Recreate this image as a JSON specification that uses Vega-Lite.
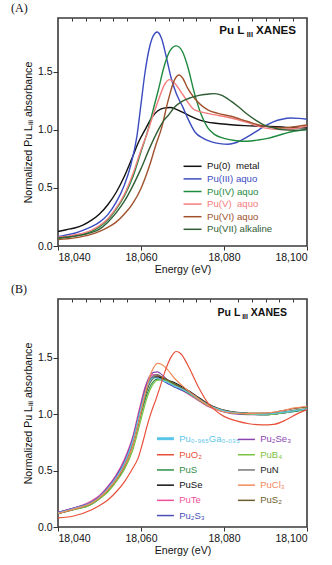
{
  "$schema": "https://vega.github.io/schema/vega-lite/v6.json",
  "padding": {"left": 10, "top": 0, "right": 5, "bottom": 5},
  "spacing": 5,
  "config": {
    "font": "Liberation Sans",
    "view": {"stroke": "#3a3a3a", "strokeWidth": 1.6},
    "axis": {"domain": false, "grid": false, "labelColor": "#111", "titleColor": "#111", "tickColor": "#333", "labelFontSize": 10.5, "titleFontSize": 10.6, "titleFontWeight": "normal"},
    "title": {"font": "Liberation Serif", "fontSize": 12, "fontWeight": "normal", "color": "#111"}
  },
  "resolve": {"scale": {"color": "independent"}, "legend": {"color": "independent"}},
  "datasets": {
    "a": [
      {"s":"Pu(0)\u00a0 metal","e":18040,"v":0.125},{"s":"Pu(0)\u00a0 metal","e":18042,"v":0.14},{"s":"Pu(0)\u00a0 metal","e":18044,"v":0.155},{"s":"Pu(0)\u00a0 metal","e":18046,"v":0.18},{"s":"Pu(0)\u00a0 metal","e":18048,"v":0.22},{"s":"Pu(0)\u00a0 metal","e":18050,"v":0.275},{"s":"Pu(0)\u00a0 metal","e":18052,"v":0.355},{"s":"Pu(0)\u00a0 metal","e":18054,"v":0.46},{"s":"Pu(0)\u00a0 metal","e":18056,"v":0.6},{"s":"Pu(0)\u00a0 metal","e":18058,"v":0.77},{"s":"Pu(0)\u00a0 metal","e":18059.5,"v":0.9},{"s":"Pu(0)\u00a0 metal","e":18061,"v":1.0},{"s":"Pu(0)\u00a0 metal","e":18062.5,"v":1.1},{"s":"Pu(0)\u00a0 metal","e":18064,"v":1.16},{"s":"Pu(0)\u00a0 metal","e":18065.5,"v":1.185},{"s":"Pu(0)\u00a0 metal","e":18067,"v":1.19},{"s":"Pu(0)\u00a0 metal","e":18068.5,"v":1.175},{"s":"Pu(0)\u00a0 metal","e":18070,"v":1.15},{"s":"Pu(0)\u00a0 metal","e":18072,"v":1.115},{"s":"Pu(0)\u00a0 metal","e":18074,"v":1.085},{"s":"Pu(0)\u00a0 metal","e":18076,"v":1.065},{"s":"Pu(0)\u00a0 metal","e":18078,"v":1.055},{"s":"Pu(0)\u00a0 metal","e":18081,"v":1.045},{"s":"Pu(0)\u00a0 metal","e":18085,"v":1.035},{"s":"Pu(0)\u00a0 metal","e":18090,"v":1.03},{"s":"Pu(0)\u00a0 metal","e":18095,"v":1.02},{"s":"Pu(0)\u00a0 metal","e":18100,"v":1.015},
      {"s":"Pu(III) aquo","e":18040,"v":0.08},{"s":"Pu(III) aquo","e":18042,"v":0.095},{"s":"Pu(III) aquo","e":18044,"v":0.11},{"s":"Pu(III) aquo","e":18046,"v":0.135},{"s":"Pu(III) aquo","e":18048,"v":0.165},{"s":"Pu(III) aquo","e":18050,"v":0.205},{"s":"Pu(III) aquo","e":18052,"v":0.27},{"s":"Pu(III) aquo","e":18054,"v":0.375},{"s":"Pu(III) aquo","e":18056,"v":0.525},{"s":"Pu(III) aquo","e":18057.5,"v":0.69},{"s":"Pu(III) aquo","e":18059,"v":0.94},{"s":"Pu(III) aquo","e":18060,"v":1.22},{"s":"Pu(III) aquo","e":18061,"v":1.5},{"s":"Pu(III) aquo","e":18062,"v":1.7},{"s":"Pu(III) aquo","e":18063,"v":1.81},{"s":"Pu(III) aquo","e":18063.9,"v":1.84},{"s":"Pu(III) aquo","e":18065,"v":1.78},{"s":"Pu(III) aquo","e":18066,"v":1.64},{"s":"Pu(III) aquo","e":18067.3,"v":1.44},{"s":"Pu(III) aquo","e":18068.5,"v":1.31},{"s":"Pu(III) aquo","e":18070,"v":1.2},{"s":"Pu(III) aquo","e":18071.5,"v":1.08},{"s":"Pu(III) aquo","e":18073,"v":0.98},{"s":"Pu(III) aquo","e":18075,"v":0.925},{"s":"Pu(III) aquo","e":18077,"v":0.895},{"s":"Pu(III) aquo","e":18079,"v":0.88},{"s":"Pu(III) aquo","e":18081,"v":0.875},{"s":"Pu(III) aquo","e":18083,"v":0.89},{"s":"Pu(III) aquo","e":18085.5,"v":0.935},{"s":"Pu(III) aquo","e":18088,"v":0.99},{"s":"Pu(III) aquo","e":18090,"v":1.035},{"s":"Pu(III) aquo","e":18092,"v":1.07},{"s":"Pu(III) aquo","e":18094,"v":1.09},{"s":"Pu(III) aquo","e":18096,"v":1.1},{"s":"Pu(III) aquo","e":18098,"v":1.097},{"s":"Pu(III) aquo","e":18100,"v":1.09},
      {"s":"Pu(IV) aquo","e":18040,"v":0.065},{"s":"Pu(IV) aquo","e":18044,"v":0.085},{"s":"Pu(IV) aquo","e":18048,"v":0.125},{"s":"Pu(IV) aquo","e":18050,"v":0.165},{"s":"Pu(IV) aquo","e":18052,"v":0.225},{"s":"Pu(IV) aquo","e":18054,"v":0.315},{"s":"Pu(IV) aquo","e":18056,"v":0.43},{"s":"Pu(IV) aquo","e":18058,"v":0.59},{"s":"Pu(IV) aquo","e":18060,"v":0.81},{"s":"Pu(IV) aquo","e":18061.7,"v":1.0},{"s":"Pu(IV) aquo","e":18063,"v":1.18},{"s":"Pu(IV) aquo","e":18064.1,"v":1.33},{"s":"Pu(IV) aquo","e":18065.7,"v":1.56},{"s":"Pu(IV) aquo","e":18067,"v":1.68},{"s":"Pu(IV) aquo","e":18068.5,"v":1.72},{"s":"Pu(IV) aquo","e":18070,"v":1.67},{"s":"Pu(IV) aquo","e":18071.2,"v":1.55},{"s":"Pu(IV) aquo","e":18072.9,"v":1.31},{"s":"Pu(IV) aquo","e":18074.5,"v":1.13},{"s":"Pu(IV) aquo","e":18076.1,"v":1.015},{"s":"Pu(IV) aquo","e":18077.7,"v":0.96},{"s":"Pu(IV) aquo","e":18080,"v":0.925},{"s":"Pu(IV) aquo","e":18083,"v":0.905},{"s":"Pu(IV) aquo","e":18085.7,"v":0.9},{"s":"Pu(IV) aquo","e":18088,"v":0.91},{"s":"Pu(IV) aquo","e":18090.5,"v":0.925},{"s":"Pu(IV) aquo","e":18093,"v":0.95},{"s":"Pu(IV) aquo","e":18096,"v":0.98},{"s":"Pu(IV) aquo","e":18100,"v":1.0},
      {"s":"Pu(V)\u00a0 aquo","e":18040,"v":0.075},{"s":"Pu(V)\u00a0 aquo","e":18044,"v":0.095},{"s":"Pu(V)\u00a0 aquo","e":18048,"v":0.135},{"s":"Pu(V)\u00a0 aquo","e":18050,"v":0.175},{"s":"Pu(V)\u00a0 aquo","e":18052,"v":0.235},{"s":"Pu(V)\u00a0 aquo","e":18054,"v":0.325},{"s":"Pu(V)\u00a0 aquo","e":18056,"v":0.445},{"s":"Pu(V)\u00a0 aquo","e":18058,"v":0.615},{"s":"Pu(V)\u00a0 aquo","e":18060,"v":0.825},{"s":"Pu(V)\u00a0 aquo","e":18061.5,"v":0.97},{"s":"Pu(V)\u00a0 aquo","e":18062.5,"v":1.08},{"s":"Pu(V)\u00a0 aquo","e":18064.1,"v":1.245},{"s":"Pu(V)\u00a0 aquo","e":18065.7,"v":1.39},{"s":"Pu(V)\u00a0 aquo","e":18066.9,"v":1.43},{"s":"Pu(V)\u00a0 aquo","e":18068.1,"v":1.4},{"s":"Pu(V)\u00a0 aquo","e":18070.1,"v":1.3},{"s":"Pu(V)\u00a0 aquo","e":18072.9,"v":1.17},{"s":"Pu(V)\u00a0 aquo","e":18076.1,"v":1.14},{"s":"Pu(V)\u00a0 aquo","e":18079,"v":1.12},{"s":"Pu(V)\u00a0 aquo","e":18081.7,"v":1.1},{"s":"Pu(V)\u00a0 aquo","e":18085.7,"v":1.06},{"s":"Pu(V)\u00a0 aquo","e":18089.7,"v":1.015},{"s":"Pu(V)\u00a0 aquo","e":18093.7,"v":1.0},{"s":"Pu(V)\u00a0 aquo","e":18097,"v":1.01},{"s":"Pu(V)\u00a0 aquo","e":18100,"v":1.03},
      {"s":"Pu(VI) aquo","e":18040,"v":0.055},{"s":"Pu(VI) aquo","e":18044,"v":0.07},{"s":"Pu(VI) aquo","e":18048,"v":0.1},{"s":"Pu(VI) aquo","e":18050,"v":0.125},{"s":"Pu(VI) aquo","e":18052,"v":0.16},{"s":"Pu(VI) aquo","e":18054,"v":0.205},{"s":"Pu(VI) aquo","e":18056,"v":0.275},{"s":"Pu(VI) aquo","e":18058,"v":0.365},{"s":"Pu(VI) aquo","e":18060,"v":0.495},{"s":"Pu(VI) aquo","e":18062,"v":0.685},{"s":"Pu(VI) aquo","e":18063.5,"v":0.86},{"s":"Pu(VI) aquo","e":18065,"v":1.02},{"s":"Pu(VI) aquo","e":18066.5,"v":1.245},{"s":"Pu(VI) aquo","e":18068.1,"v":1.43},{"s":"Pu(VI) aquo","e":18069.2,"v":1.47},{"s":"Pu(VI) aquo","e":18070.1,"v":1.44},{"s":"Pu(VI) aquo","e":18071.2,"v":1.36},{"s":"Pu(VI) aquo","e":18072.9,"v":1.27},{"s":"Pu(VI) aquo","e":18076.1,"v":1.17},{"s":"Pu(VI) aquo","e":18078.5,"v":1.14},{"s":"Pu(VI) aquo","e":18081.7,"v":1.115},{"s":"Pu(VI) aquo","e":18085.7,"v":1.07},{"s":"Pu(VI) aquo","e":18089.7,"v":1.03},{"s":"Pu(VI) aquo","e":18093.7,"v":1.015},{"s":"Pu(VI) aquo","e":18097,"v":1.025},{"s":"Pu(VI) aquo","e":18100,"v":1.04},
      {"s":"Pu(VII) alkaline","e":18040,"v":0.07},{"s":"Pu(VII) alkaline","e":18044,"v":0.085},{"s":"Pu(VII) alkaline","e":18048,"v":0.115},{"s":"Pu(VII) alkaline","e":18050,"v":0.145},{"s":"Pu(VII) alkaline","e":18052,"v":0.205},{"s":"Pu(VII) alkaline","e":18054,"v":0.285},{"s":"Pu(VII) alkaline","e":18056,"v":0.385},{"s":"Pu(VII) alkaline","e":18058,"v":0.515},{"s":"Pu(VII) alkaline","e":18060,"v":0.665},{"s":"Pu(VII) alkaline","e":18062,"v":0.835},{"s":"Pu(VII) alkaline","e":18064.2,"v":1.0},{"s":"Pu(VII) alkaline","e":18065.5,"v":1.08},{"s":"Pu(VII) alkaline","e":18066.5,"v":1.12},{"s":"Pu(VII) alkaline","e":18068,"v":1.19},{"s":"Pu(VII) alkaline","e":18070,"v":1.245},{"s":"Pu(VII) alkaline","e":18072,"v":1.275},{"s":"Pu(VII) alkaline","e":18074,"v":1.295},{"s":"Pu(VII) alkaline","e":18076,"v":1.305},{"s":"Pu(VII) alkaline","e":18077.7,"v":1.31},{"s":"Pu(VII) alkaline","e":18079.5,"v":1.295},{"s":"Pu(VII) alkaline","e":18081.7,"v":1.245},{"s":"Pu(VII) alkaline","e":18083.7,"v":1.19},{"s":"Pu(VII) alkaline","e":18085.7,"v":1.13},{"s":"Pu(VII) alkaline","e":18087.7,"v":1.08},{"s":"Pu(VII) alkaline","e":18089.7,"v":1.04},{"s":"Pu(VII) alkaline","e":18092,"v":1.015},{"s":"Pu(VII) alkaline","e":18094,"v":1.0},{"s":"Pu(VII) alkaline","e":18097,"v":0.995},{"s":"Pu(VII) alkaline","e":18100,"v":1.0}
    ],
    "b": [
      {"s":"PuTe","e":18040,"v":0.13},{"s":"PuTe","e":18044,"v":0.17},{"s":"PuTe","e":18048,"v":0.23},{"s":"PuTe","e":18050,"v":0.28},{"s":"PuTe","e":18052,"v":0.36},{"s":"PuTe","e":18054,"v":0.46},{"s":"PuTe","e":18056,"v":0.6},{"s":"PuTe","e":18058,"v":0.8},{"s":"PuTe","e":18059.7,"v":1.06},{"s":"PuTe","e":18061,"v":1.24},{"s":"PuTe","e":18062,"v":1.32},{"s":"PuTe","e":18063,"v":1.35},{"s":"PuTe","e":18064,"v":1.34},{"s":"PuTe","e":18065,"v":1.31},{"s":"PuTe","e":18066.5,"v":1.28},{"s":"PuTe","e":18068,"v":1.25},{"s":"PuTe","e":18070,"v":1.21},{"s":"PuTe","e":18073,"v":1.14},{"s":"PuTe","e":18076,"v":1.07},{"s":"PuTe","e":18079,"v":1.03},{"s":"PuTe","e":18082,"v":1.01},{"s":"PuTe","e":18086,"v":1.0},{"s":"PuTe","e":18090,"v":1.0},{"s":"PuTe","e":18094,"v":1.01},{"s":"PuTe","e":18097,"v":1.03},{"s":"PuTe","e":18100,"v":1.04},
      {"s":"Pu₂S₃","e":18040,"v":0.13},{"s":"Pu₂S₃","e":18044,"v":0.17},{"s":"Pu₂S₃","e":18048,"v":0.22},{"s":"Pu₂S₃","e":18050,"v":0.27},{"s":"Pu₂S₃","e":18052,"v":0.35},{"s":"Pu₂S₃","e":18054,"v":0.45},{"s":"Pu₂S₃","e":18056,"v":0.58},{"s":"Pu₂S₃","e":18058,"v":0.78},{"s":"Pu₂S₃","e":18059.7,"v":1.03},{"s":"Pu₂S₃","e":18061,"v":1.21},{"s":"Pu₂S₃","e":18062,"v":1.3},{"s":"Pu₂S₃","e":18063,"v":1.33},{"s":"Pu₂S₃","e":18064,"v":1.32},{"s":"Pu₂S₃","e":18065,"v":1.3},{"s":"Pu₂S₃","e":18066.5,"v":1.27},{"s":"Pu₂S₃","e":18068,"v":1.24},{"s":"Pu₂S₃","e":18070,"v":1.21},{"s":"Pu₂S₃","e":18073,"v":1.15},{"s":"Pu₂S₃","e":18076,"v":1.08},{"s":"Pu₂S₃","e":18079,"v":1.035},{"s":"Pu₂S₃","e":18082,"v":1.01},{"s":"Pu₂S₃","e":18086,"v":1.0},{"s":"Pu₂S₃","e":18090,"v":0.995},{"s":"Pu₂S₃","e":18094,"v":1.01},{"s":"Pu₂S₃","e":18097,"v":1.025},{"s":"Pu₂S₃","e":18100,"v":1.04},
      {"s":"Pu₂Se₃","e":18040,"v":0.13},{"s":"Pu₂Se₃","e":18044,"v":0.17},{"s":"Pu₂Se₃","e":18048,"v":0.22},{"s":"Pu₂Se₃","e":18050,"v":0.27},{"s":"Pu₂Se₃","e":18052,"v":0.35},{"s":"Pu₂Se₃","e":18054,"v":0.45},{"s":"Pu₂Se₃","e":18056,"v":0.58},{"s":"Pu₂Se₃","e":18058,"v":0.78},{"s":"Pu₂Se₃","e":18059.7,"v":1.03},{"s":"Pu₂Se₃","e":18061,"v":1.23},{"s":"Pu₂Se₃","e":18062,"v":1.33},{"s":"Pu₂Se₃","e":18063,"v":1.37},{"s":"Pu₂Se₃","e":18064,"v":1.375},{"s":"Pu₂Se₃","e":18065,"v":1.35},{"s":"Pu₂Se₃","e":18066.5,"v":1.3},{"s":"Pu₂Se₃","e":18068,"v":1.26},{"s":"Pu₂Se₃","e":18070,"v":1.22},{"s":"Pu₂Se₃","e":18073,"v":1.15},{"s":"Pu₂Se₃","e":18076,"v":1.08},{"s":"Pu₂Se₃","e":18079,"v":1.03},{"s":"Pu₂Se₃","e":18082,"v":1.005},{"s":"Pu₂Se₃","e":18086,"v":0.995},{"s":"Pu₂Se₃","e":18090,"v":0.995},{"s":"Pu₂Se₃","e":18094,"v":1.01},{"s":"Pu₂Se₃","e":18097,"v":1.03},{"s":"Pu₂Se₃","e":18100,"v":1.045},
      {"s":"PuSe","e":18040,"v":0.12},{"s":"PuSe","e":18044,"v":0.16},{"s":"PuSe","e":18048,"v":0.21},{"s":"PuSe","e":18050,"v":0.26},{"s":"PuSe","e":18052,"v":0.33},{"s":"PuSe","e":18054,"v":0.42},{"s":"PuSe","e":18056,"v":0.55},{"s":"PuSe","e":18058,"v":0.74},{"s":"PuSe","e":18059.7,"v":0.99},{"s":"PuSe","e":18061,"v":1.17},{"s":"PuSe","e":18062,"v":1.27},{"s":"PuSe","e":18063,"v":1.32},{"s":"PuSe","e":18064,"v":1.33},{"s":"PuSe","e":18065,"v":1.32},{"s":"PuSe","e":18066.5,"v":1.3},{"s":"PuSe","e":18068,"v":1.28},{"s":"PuSe","e":18070,"v":1.24},{"s":"PuSe","e":18073,"v":1.17},{"s":"PuSe","e":18076,"v":1.095},{"s":"PuSe","e":18079,"v":1.045},{"s":"PuSe","e":18082,"v":1.02},{"s":"PuSe","e":18086,"v":1.005},{"s":"PuSe","e":18090,"v":1.0},{"s":"PuSe","e":18094,"v":1.015},{"s":"PuSe","e":18097,"v":1.03},{"s":"PuSe","e":18100,"v":1.04},
      {"s":"PuN","e":18040,"v":0.12},{"s":"PuN","e":18044,"v":0.16},{"s":"PuN","e":18048,"v":0.21},{"s":"PuN","e":18050,"v":0.26},{"s":"PuN","e":18052,"v":0.33},{"s":"PuN","e":18054,"v":0.43},{"s":"PuN","e":18056,"v":0.56},{"s":"PuN","e":18058,"v":0.76},{"s":"PuN","e":18059.7,"v":1.01},{"s":"PuN","e":18061,"v":1.2},{"s":"PuN","e":18062,"v":1.3},{"s":"PuN","e":18063,"v":1.34},{"s":"PuN","e":18064,"v":1.35},{"s":"PuN","e":18065,"v":1.33},{"s":"PuN","e":18066.5,"v":1.3},{"s":"PuN","e":18068,"v":1.27},{"s":"PuN","e":18070,"v":1.23},{"s":"PuN","e":18073,"v":1.16},{"s":"PuN","e":18076,"v":1.09},{"s":"PuN","e":18079,"v":1.04},{"s":"PuN","e":18082,"v":1.015},{"s":"PuN","e":18086,"v":1.005},{"s":"PuN","e":18090,"v":1.0},{"s":"PuN","e":18094,"v":1.015},{"s":"PuN","e":18097,"v":1.035},{"s":"PuN","e":18100,"v":1.05},
      {"s":"PuS","e":18040,"v":0.12},{"s":"PuS","e":18044,"v":0.155},{"s":"PuS","e":18048,"v":0.2},{"s":"PuS","e":18050,"v":0.25},{"s":"PuS","e":18052,"v":0.32},{"s":"PuS","e":18054,"v":0.41},{"s":"PuS","e":18056,"v":0.53},{"s":"PuS","e":18058,"v":0.71},{"s":"PuS","e":18059.7,"v":0.95},{"s":"PuS","e":18061,"v":1.13},{"s":"PuS","e":18062,"v":1.23},{"s":"PuS","e":18063,"v":1.29},{"s":"PuS","e":18064,"v":1.31},{"s":"PuS","e":18065,"v":1.31},{"s":"PuS","e":18066.5,"v":1.29},{"s":"PuS","e":18068,"v":1.26},{"s":"PuS","e":18070,"v":1.22},{"s":"PuS","e":18073,"v":1.15},{"s":"PuS","e":18076,"v":1.08},{"s":"PuS","e":18079,"v":1.035},{"s":"PuS","e":18082,"v":1.01},{"s":"PuS","e":18086,"v":1.0},{"s":"PuS","e":18090,"v":0.995},{"s":"PuS","e":18094,"v":1.01},{"s":"PuS","e":18097,"v":1.025},{"s":"PuS","e":18100,"v":1.04},
      {"s":"PuB₄","e":18040,"v":0.12},{"s":"PuB₄","e":18044,"v":0.155},{"s":"PuB₄","e":18048,"v":0.2},{"s":"PuB₄","e":18050,"v":0.25},{"s":"PuB₄","e":18052,"v":0.31},{"s":"PuB₄","e":18054,"v":0.4},{"s":"PuB₄","e":18056,"v":0.51},{"s":"PuB₄","e":18058,"v":0.68},{"s":"PuB₄","e":18059.7,"v":0.91},{"s":"PuB₄","e":18061,"v":1.09},{"s":"PuB₄","e":18062,"v":1.2},{"s":"PuB₄","e":18063,"v":1.27},{"s":"PuB₄","e":18064,"v":1.3},{"s":"PuB₄","e":18065,"v":1.3},{"s":"PuB₄","e":18066.5,"v":1.29},{"s":"PuB₄","e":18068,"v":1.26},{"s":"PuB₄","e":18070,"v":1.22},{"s":"PuB₄","e":18073,"v":1.15},{"s":"PuB₄","e":18076,"v":1.08},{"s":"PuB₄","e":18079,"v":1.035},{"s":"PuB₄","e":18082,"v":1.01},{"s":"PuB₄","e":18086,"v":1.0},{"s":"PuB₄","e":18090,"v":0.995},{"s":"PuB₄","e":18094,"v":1.01},{"s":"PuB₄","e":18097,"v":1.03},{"s":"PuB₄","e":18100,"v":1.045},
      {"s":"PuS₂","e":18040,"v":0.12},{"s":"PuS₂","e":18044,"v":0.16},{"s":"PuS₂","e":18048,"v":0.21},{"s":"PuS₂","e":18050,"v":0.26},{"s":"PuS₂","e":18052,"v":0.33},{"s":"PuS₂","e":18054,"v":0.42},{"s":"PuS₂","e":18056,"v":0.54},{"s":"PuS₂","e":18058,"v":0.73},{"s":"PuS₂","e":18059.7,"v":0.98},{"s":"PuS₂","e":18061,"v":1.17},{"s":"PuS₂","e":18062,"v":1.27},{"s":"PuS₂","e":18063,"v":1.32},{"s":"PuS₂","e":18064,"v":1.34},{"s":"PuS₂","e":18065,"v":1.33},{"s":"PuS₂","e":18066.5,"v":1.3},{"s":"PuS₂","e":18068,"v":1.27},{"s":"PuS₂","e":18070,"v":1.23},{"s":"PuS₂","e":18073,"v":1.16},{"s":"PuS₂","e":18076,"v":1.09},{"s":"PuS₂","e":18079,"v":1.045},{"s":"PuS₂","e":18082,"v":1.02},{"s":"PuS₂","e":18086,"v":1.01},{"s":"PuS₂","e":18090,"v":1.01},{"s":"PuS₂","e":18094,"v":1.03},{"s":"PuS₂","e":18097,"v":1.05},{"s":"PuS₂","e":18100,"v":1.065},
      {"s":"Pu₀.₉₆₅Ga₀.₀₃₅","e":18040,"v":0.125},{"s":"Pu₀.₉₆₅Ga₀.₀₃₅","e":18044,"v":0.165},{"s":"Pu₀.₉₆₅Ga₀.₀₃₅","e":18048,"v":0.215},{"s":"Pu₀.₉₆₅Ga₀.₀₃₅","e":18050,"v":0.265},{"s":"Pu₀.₉₆₅Ga₀.₀₃₅","e":18052,"v":0.34},{"s":"Pu₀.₉₆₅Ga₀.₀₃₅","e":18054,"v":0.435},{"s":"Pu₀.₉₆₅Ga₀.₀₃₅","e":18056,"v":0.565},{"s":"Pu₀.₉₆₅Ga₀.₀₃₅","e":18058,"v":0.76},{"s":"Pu₀.₉₆₅Ga₀.₀₃₅","e":18059.7,"v":1.01},{"s":"Pu₀.₉₆₅Ga₀.₀₃₅","e":18061,"v":1.19},{"s":"Pu₀.₉₆₅Ga₀.₀₃₅","e":18062,"v":1.28},{"s":"Pu₀.₉₆₅Ga₀.₀₃₅","e":18063,"v":1.32},{"s":"Pu₀.₉₆₅Ga₀.₀₃₅","e":18064,"v":1.32},{"s":"Pu₀.₉₆₅Ga₀.₀₃₅","e":18065,"v":1.3},{"s":"Pu₀.₉₆₅Ga₀.₀₃₅","e":18066.5,"v":1.28},{"s":"Pu₀.₉₆₅Ga₀.₀₃₅","e":18068,"v":1.25},{"s":"Pu₀.₉₆₅Ga₀.₀₃₅","e":18070,"v":1.22},{"s":"Pu₀.₉₆₅Ga₀.₀₃₅","e":18073,"v":1.155},{"s":"Pu₀.₉₆₅Ga₀.₀₃₅","e":18076,"v":1.085},{"s":"Pu₀.₉₆₅Ga₀.₀₃₅","e":18079,"v":1.04},{"s":"Pu₀.₉₆₅Ga₀.₀₃₅","e":18082,"v":1.015},{"s":"Pu₀.₉₆₅Ga₀.₀₃₅","e":18086,"v":1.005},{"s":"Pu₀.₉₆₅Ga₀.₀₃₅","e":18090,"v":1.0},{"s":"Pu₀.₉₆₅Ga₀.₀₃₅","e":18094,"v":1.015},{"s":"Pu₀.₉₆₅Ga₀.₀₃₅","e":18097,"v":1.03},{"s":"Pu₀.₉₆₅Ga₀.₀₃₅","e":18100,"v":1.045},
      {"s":"PuCl₃","e":18040,"v":0.12},{"s":"PuCl₃","e":18044,"v":0.16},{"s":"PuCl₃","e":18048,"v":0.21},{"s":"PuCl₃","e":18050,"v":0.26},{"s":"PuCl₃","e":18052,"v":0.33},{"s":"PuCl₃","e":18054,"v":0.42},{"s":"PuCl₃","e":18056,"v":0.54},{"s":"PuCl₃","e":18058,"v":0.72},{"s":"PuCl₃","e":18059.7,"v":0.97},{"s":"PuCl₃","e":18061,"v":1.18},{"s":"PuCl₃","e":18062,"v":1.32},{"s":"PuCl₃","e":18063,"v":1.41},{"s":"PuCl₃","e":18064,"v":1.45},{"s":"PuCl₃","e":18065,"v":1.44},{"s":"PuCl₃","e":18066.5,"v":1.39},{"s":"PuCl₃","e":18068,"v":1.32},{"s":"PuCl₃","e":18070,"v":1.25},{"s":"PuCl₃","e":18073,"v":1.16},{"s":"PuCl₃","e":18076,"v":1.08},{"s":"PuCl₃","e":18079,"v":1.03},{"s":"PuCl₃","e":18082,"v":1.01},{"s":"PuCl₃","e":18086,"v":1.005},{"s":"PuCl₃","e":18090,"v":1.01},{"s":"PuCl₃","e":18094,"v":1.03},{"s":"PuCl₃","e":18097,"v":1.055},{"s":"PuCl₃","e":18100,"v":1.07},
      {"s":"PuO₂","e":18040,"v":0.08},{"s":"PuO₂","e":18044,"v":0.1},{"s":"PuO₂","e":18048,"v":0.15},{"s":"PuO₂","e":18050,"v":0.19},{"s":"PuO₂","e":18052,"v":0.24},{"s":"PuO₂","e":18054,"v":0.31},{"s":"PuO₂","e":18056,"v":0.4},{"s":"PuO₂","e":18058,"v":0.52},{"s":"PuO₂","e":18059.3,"v":0.61},{"s":"PuO₂","e":18060.5,"v":0.76},{"s":"PuO₂","e":18061.5,"v":0.9},{"s":"PuO₂","e":18062.5,"v":1.02},{"s":"PuO₂","e":18063.5,"v":1.12},{"s":"PuO₂","e":18064.5,"v":1.23},{"s":"PuO₂","e":18065.7,"v":1.37},{"s":"PuO₂","e":18067.3,"v":1.51},{"s":"PuO₂","e":18068.5,"v":1.555},{"s":"PuO₂","e":18069.6,"v":1.535},{"s":"PuO₂","e":18071.2,"v":1.44},{"s":"PuO₂","e":18073.7,"v":1.25},{"s":"PuO₂","e":18076.1,"v":1.1},{"s":"PuO₂","e":18077.7,"v":1.04},{"s":"PuO₂","e":18080,"v":0.98},{"s":"PuO₂","e":18083,"v":0.94},{"s":"PuO₂","e":18086,"v":0.915},{"s":"PuO₂","e":18089,"v":0.905},{"s":"PuO₂","e":18092,"v":0.91},{"s":"PuO₂","e":18095,"v":0.95},{"s":"PuO₂","e":18097.5,"v":1.0},{"s":"PuO₂","e":18100,"v":1.04}
    ]
  },
  "vconcat": [
    {
      "width": 249, "height": 228,
      "title": {"text": "(A)", "anchor": "start", "frame": "group", "dx": -47, "offset": 3},
      "resolve": {"axis": {"x": "independent"}},
      "layer": [
        {
          "data": {"name": "a"},
          "mark": {"type": "line", "interpolate": "monotone", "strokeWidth": 1.4},
          "encoding": {
            "x": {"field": "e", "type": "quantitative", "scale": {"domain": [18040, 18100], "nice": false, "zero": false},
                  "axis": {"values": [18040, 18060, 18080, 18100], "format": ",d", "tickSize": 4, "labelPadding": 2, "title": "Energy (eV)", "titlePadding": 2}},
            "y": {"field": "v", "type": "quantitative", "scale": {"domain": [0, 1.96], "nice": false},
                  "axis": {"values": [0, 0.5, 1, 1.5], "format": ".1f", "tickSize": 5, "labelPadding": 1, "title": "Normalized Pu Lᵢᵢᵢ absorbance", "titlePadding": 4}},
            "color": {"field": "s", "type": "nominal", "sort": null,
              "scale": {"domain": ["Pu(0)\u00a0 metal", "Pu(III) aquo", "Pu(IV) aquo", "Pu(V)\u00a0 aquo", "Pu(VI) aquo", "Pu(VII) alkaline"],
                        "range": ["#111111", "#3b4cc0", "#1e8a3e", "#f47c7c", "#a0522d", "#2f5e34"]},
              "legend": {"orient": "none", "legendX": 129.75, "legendY": 143.5, "title": null, "padding": 0,
                "symbolType": "M-4,0H4", "symbolSize": 20.25, "symbolStrokeWidth": 1.5, "labelFontSize": 9.6, "labelOffset": 9.75, "rowPadding": 1.6, "labelLimit": 200,
                "encode": {"labels": {"update": {"fill": {"signal": "['#111111','#3b4cc0','#1e8a3e','#f47c7c','#a0522d','#2f5e34'][indexof(['Pu(0)\u00a0 metal','Pu(III) aquo','Pu(IV) aquo','Pu(V)\u00a0 aquo','Pu(VI) aquo','Pu(VII) alkaline'], datum.value)]"}}}}}}
          }
        },
        {
          "data": {"values": [{"e": 18100, "v": 1.96}]},
          "mark": {"type": "text", "text": "XANES", "fontWeight": "bold", "fontSize": 11.6, "align": "right", "baseline": "middle", "dx": -11, "dy": 13, "color": "#111"},
          "encoding": {
            "x": {"field": "e", "type": "quantitative", "axis": {"values": [18043.333, 18046.667, 18050, 18053.333, 18056.667, 18063.333, 18066.667, 18070, 18073.333, 18076.667, 18083.333, 18086.667, 18090, 18093.333, 18096.667], "tickSize": -3, "labels": false, "title": null, "domain": false}},
            "y": {"field": "v", "type": "quantitative"}
          }
        },
        {
          "data": {"values": [{"e": 18100, "v": 1.96}]},
          "mark": {"type": "text", "text": "III", "fontWeight": "bold", "fontSize": 7.5, "align": "right", "baseline": "middle", "dx": -54, "dy": 17, "color": "#111"},
          "encoding": {"x": {"field": "e", "type": "quantitative", "axis": null}, "y": {"field": "v", "type": "quantitative"}}
        },
        {
          "data": {"values": [{"e": 18100, "v": 1.96}]},
          "mark": {"type": "text", "text": "Pu L", "fontWeight": "bold", "fontSize": 11.6, "align": "right", "baseline": "middle", "dx": -62.7, "dy": 13, "color": "#111"},
          "encoding": {"x": {"field": "e", "type": "quantitative", "axis": null}, "y": {"field": "v", "type": "quantitative"}}
        }
      ]
    },
    {
      "width": 249, "height": 228,
      "title": {"text": "(B)", "anchor": "start", "frame": "group", "dx": -47, "offset": 3},
      "resolve": {"axis": {"x": "independent"}},
      "layer": [
        {
          "data": {"name": "b"},
          "mark": {"type": "line", "interpolate": "monotone", "strokeWidth": 1.2},
          "encoding": {
            "x": {"field": "e", "type": "quantitative", "scale": {"domain": [18040, 18100], "nice": false, "zero": false},
                  "axis": {"values": [18040, 18060, 18080, 18100], "format": ",d", "tickSize": 4, "labelPadding": 2, "title": "Energy (eV)", "titlePadding": 2}},
            "y": {"field": "v", "type": "quantitative", "scale": {"domain": [0, 2.02], "nice": false},
                  "axis": {"values": [0, 0.5, 1, 1.5], "format": ".1f", "tickSize": 5, "labelPadding": 1, "title": "Normalized Pu Lᵢᵢᵢ absorbance", "titlePadding": 4}},
            "color": {"field": "s", "type": "nominal", "sort": null,
              "scale": {"domain": ["Pu₀.₉₆₅Ga₀.₀₃₅", "PuO₂", "PuS", "PuSe", "PuTe", "Pu₂S₃", "Pu₂Se₃", "PuB₄", "PuN", "PuCl₃", "PuS₂"],
                        "range": ["#5cc6ea", "#e8503a", "#2f8f48", "#111111", "#f0509a", "#4a4fb8", "#8a45b0", "#7cc243", "#777777", "#f58a5c", "#6e5c2c"]},
              "legend": {"orient": "none", "legendX": 102.7, "legendY": 134.8, "title": null, "padding": 0, "columns": 2, "columnPadding": -6, "rowPadding": 4.2,
                "symbolType": "M-4,0H4", "symbolSize": 18, "symbolStrokeWidth": 1.5, "labelFontSize": 9.5, "labelOffset": 9, "labelLimit": 200,
                "encode": {
                  "labels": {"update": {"fill": {"signal": "['#5cc6ea','#e8503a','#2f8f48','#111111','#f0509a','#4a4fb8','#8a45b0','#7cc243','#222222','#f58a5c','#6e5c2c'][indexof(['Pu₀.₉₆₅Ga₀.₀₃₅','PuO₂','PuS','PuSe','PuTe','Pu₂S₃','Pu₂Se₃','PuB₄','PuN','PuCl₃','PuS₂'], datum.value)]"}}},
                  "symbols": {"update": {"strokeWidth": {"signal": "datum.value === 'Pu₀.₉₆₅Ga₀.₀₃₅' ? 3 : 1.5"}}}
                }}}
          }
        },
        {
          "data": {"values": [{"e": 18100, "v": 2.02}]},
          "mark": {"type": "text", "text": "XANES", "fontWeight": "bold", "fontSize": 10.5, "align": "right", "baseline": "middle", "dx": -20, "dy": 14, "color": "#111"},
          "encoding": {
            "x": {"field": "e", "type": "quantitative", "axis": {"values": [18043.333, 18046.667, 18050, 18053.333, 18056.667, 18063.333, 18066.667, 18070, 18073.333, 18076.667, 18083.333, 18086.667, 18090, 18093.333, 18096.667], "tickSize": -3, "labels": false, "title": null, "domain": false}},
            "y": {"field": "v", "type": "quantitative"}
          }
        },
        {
          "data": {"values": [{"e": 18100, "v": 2.02}]},
          "mark": {"type": "text", "text": "III", "fontWeight": "bold", "fontSize": 7, "align": "right", "baseline": "middle", "dx": -59, "dy": 18, "color": "#111"},
          "encoding": {"x": {"field": "e", "type": "quantitative", "axis": null}, "y": {"field": "v", "type": "quantitative"}}
        },
        {
          "data": {"values": [{"e": 18100, "v": 2.02}]},
          "mark": {"type": "text", "text": "Pu L", "fontWeight": "bold", "fontSize": 10.5, "align": "right", "baseline": "middle", "dx": -66.7, "dy": 14, "color": "#111"},
          "encoding": {"x": {"field": "e", "type": "quantitative", "axis": null}, "y": {"field": "v", "type": "quantitative"}}
        }
      ]
    }
  ]
}
